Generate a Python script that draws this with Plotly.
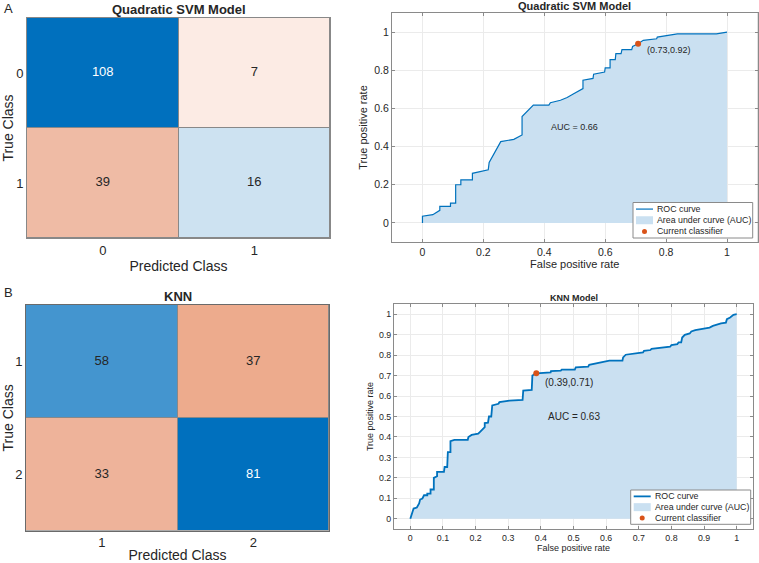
import plotly.graph_objects as go

# ---------------- data ----------------
svm_classes = ["0", "1"]
svm_cm = [[108, 7], [39, 16]]
knn_classes = ["1", "2"]
knn_cm = [[58, 37], [33, 81]]

svm_fpr = [0, 0, 0.034, 0.048, 0.057, 0.057, 0.092, 0.092, 0.109, 0.109,
           0.126, 0.126, 0.164, 0.164, 0.216, 0.219, 0.241, 0.257, 0.30, 0.312,
           0.327, 0.327, 0.364, 0.415, 0.42, 0.453, 0.475, 0.495, 0.527, 0.527,
           0.56, 0.562, 0.598, 0.60, 0.616, 0.616, 0.633, 0.635, 0.652, 0.655,
           0.687, 0.69, 0.708, 0.725, 0.769, 0.771, 0.835, 0.837, 0.965, 1.0]
svm_tpr = [0, 0.035, 0.043, 0.056, 0.066, 0.087, 0.087, 0.104, 0.104, 0.2,
           0.2, 0.226, 0.226, 0.26, 0.278, 0.317, 0.383, 0.426, 0.438, 0.449,
           0.461, 0.557, 0.617, 0.617, 0.63, 0.643, 0.657, 0.675, 0.704, 0.748,
           0.757, 0.779, 0.791, 0.812, 0.812, 0.856, 0.856, 0.887, 0.887, 0.908,
           0.908, 0.925, 0.939, 0.957, 0.965, 0.974, 0.988, 0.991, 0.991, 1.0]
svm_op_fpr = [0.708]
svm_op_tpr = [0.939]
svm_op_label = "(0.73,0.92)"
svm_auc_label = "AUC = 0.66"

knn_fpr = [0, 0.010, 0.020, 0.027, 0.030, 0.037, 0.042, 0.052, 0.052, 0.062,
           0.062, 0.072, 0.072, 0.082, 0.082, 0.103, 0.105, 0.113, 0.115, 0.123,
           0.123, 0.135, 0.176, 0.178, 0.188, 0.208, 0.213, 0.22, 0.228, 0.228,
           0.238, 0.241, 0.248, 0.251, 0.27, 0.273, 0.304, 0.344, 0.346, 0.372,
           0.374, 0.386, 0.43, 0.431, 0.461, 0.464, 0.504, 0.507, 0.545, 0.548,
           0.605, 0.61, 0.65, 0.652, 0.66, 0.682, 0.713, 0.716, 0.736, 0.739,
           0.781, 0.796, 0.8, 0.818, 0.822, 0.83, 0.833, 0.841, 0.856, 0.861,
           0.873, 0.891, 0.917, 0.927, 0.937, 0.952, 0.967, 0.97, 0.98, 0.99, 1.0]
knn_tpr = [0, 0.05, 0.055, 0.075, 0.094, 0.099, 0.115, 0.115, 0.123, 0.123,
           0.143, 0.143, 0.2, 0.208, 0.229, 0.229, 0.253, 0.253, 0.326, 0.326,
           0.38, 0.386, 0.386, 0.4, 0.41, 0.416, 0.424, 0.435, 0.448, 0.468,
           0.47, 0.5, 0.5, 0.554, 0.562, 0.57, 0.578, 0.581, 0.627, 0.63,
           0.70, 0.711, 0.716, 0.722, 0.724, 0.729, 0.729, 0.74, 0.744, 0.753,
           0.768, 0.773, 0.773, 0.789, 0.802, 0.808, 0.813, 0.821, 0.825, 0.831,
           0.838, 0.841, 0.849, 0.854, 0.862, 0.862, 0.886, 0.899, 0.906, 0.916,
           0.922, 0.927, 0.935, 0.943, 0.948, 0.955, 0.959, 0.976, 0.984, 0.997, 1.0]
knn_op_fpr = [0.386]
knn_op_tpr = [0.711]
knn_op_label = "(0.39,0.71)"
knn_auc_label = "AUC = 0.63"

legend_labels = ["ROC curve", "Area under curve (AUC)", "Current classifier"]

# ---------------- style ----------------
FONT = "Liberation Sans, Arial, Helvetica, sans-serif"
TXT = "#262626"
svm_cell_colors = ["#0070BE", "#FCEBE4", "#EFBBA5", "#CDE2F1"]
svm_text_colors = ["white", TXT, TXT, TXT]
knn_cell_colors = ["#4495CF", "#EDAB8D", "#EEB39A", "#0070BE"]
knn_text_colors = [TXT, TXT, TXT, "white"]
ROC_LINE = "#0072BD"
AUC_FILL = "#CAE0F1"
OP_COLOR = "#D95319"

W, H = 759, 563
def dx(a, b):
    return [a / W, b / W]
def dy(top, bottom):
    return [1 - bottom / H, 1 - top / H]
def px(x):
    return x / W
def py(y):
    return 1 - y / H

fig = go.Figure()

def add_cm(cm, classes, colors, tcolors, xa, ya):
    n = len(classes)
    idx = [[i * n + j for j in range(n)] for i in range(n)]
    scale = [[k / (n * n - 1), c] for k, c in enumerate(colors)]
    fig.add_trace(go.Heatmap(
        z=idx, x=list(range(n)), y=list(range(n)), zmin=0, zmax=n * n - 1,
        colorscale=scale, showscale=False, xgap=1, ygap=1, hoverinfo="skip",
        xaxis=xa, yaxis=ya))
    xs, ys, ts, cs = [], [], [], []
    for i in range(n):
        for j in range(n):
            xs.append(j); ys.append(i); ts.append(str(cm[i][j])); cs.append(tcolors[i * n + j])
    fig.add_trace(go.Scatter(
        x=xs, y=ys, text=ts, mode="text", textfont=dict(size=13, color=cs, family=FONT),
        showlegend=False, hoverinfo="skip", xaxis=xa, yaxis=ya))

def add_roc(fpr, tpr, opx, opy, xa, ya, lw):
    fig.add_trace(go.Scatter(
        x=fpr, y=tpr, mode="none", fill="tozeroy", fillcolor=AUC_FILL,
        name=legend_labels[1], showlegend=False, xaxis=xa, yaxis=ya))
    fig.add_trace(go.Scatter(
        x=fpr, y=tpr, mode="lines", line=dict(color=ROC_LINE, width=lw),
        name=legend_labels[0], showlegend=False, xaxis=xa, yaxis=ya))
    fig.add_trace(go.Scatter(
        x=opx, y=opy, mode="markers", marker=dict(color=OP_COLOR, size=6),
        name=legend_labels[2], showlegend=False, xaxis=xa, yaxis=ya))

add_cm(svm_cm, svm_classes, svm_cell_colors, svm_text_colors, "x", "y")
add_roc(svm_fpr, svm_tpr, svm_op_fpr, svm_op_tpr, "x2", "y2", 1.2)
add_cm(knn_cm, knn_classes, knn_cell_colors, knn_text_colors, "x3", "y3")
add_roc(knn_fpr, knn_tpr, knn_op_fpr, knn_op_tpr, "x4", "y4", 1.8)

cm_common = dict(showgrid=False, zeroline=False, ticks="", showline=True, mirror=True,
                 automargin=False, tickfont=dict(size=13, color=TXT, family=FONT))
def cm_x(dom, classes, anchor, lc):
    return dict(domain=dom, anchor=anchor, range=[-0.5, 1.5], tickvals=[0, 1], ticktext=classes,
                title=dict(text="Predicted Class", font=dict(size=14, color=TXT, family=FONT), standoff=4),
                linecolor=lc, **cm_common)
def cm_y(dom, classes, anchor, lc):
    return dict(domain=dom, anchor=anchor, range=[1.5, -0.5], tickvals=[0, 1], ticktext=classes,
                title=dict(text="True Class", font=dict(size=14, color=TXT, family=FONT), standoff=4),
                linecolor=lc, **cm_common)

def roc_axis(dom, anchor, rng, dt, title, fs, tfs, standoff):
    return dict(domain=dom, anchor=anchor, range=rng, dtick=dt, tick0=0, automargin=False,
                showgrid=True, gridcolor="#EBEBEB", gridwidth=1, zeroline=False,
                showline=True, linecolor="#8A8A8A", linewidth=1, mirror="ticks",
                ticks="inside", ticklen=3, tickcolor="#8A8A8A",
                tickfont=dict(size=tfs, color=TXT, family=FONT),
                title=dict(text=title, font=dict(size=fs, color=TXT, family=FONT), standoff=standoff))

fig.update_layout(
    width=W, height=H, margin=dict(l=0, r=0, t=0, b=0, autoexpand=False),
    paper_bgcolor="white", plot_bgcolor="#888888",
    font=dict(family=FONT, color=TXT), showlegend=False,
    xaxis=cm_x(dx(27, 330), svm_classes, "y", "#888888"),
    yaxis=cm_y(dy(18, 238), svm_classes, "x", "#888888"),
    xaxis2=roc_axis(dx(392, 757.5), "y2", [-0.1, 1.1], 0.2, "False positive rate", 11, 10.5, 3),
    yaxis2=roc_axis(dy(13, 242), "x2", [-0.1, 1.1], 0.2, "True positive rate", 11, 10.5, 4),
    xaxis3=cm_x(dx(26, 329), knn_classes, "y3", "#6a6a6a"),
    yaxis3=cm_y(dy(305, 530.7), knn_classes, "x3", "#6a6a6a"),
    xaxis4=roc_axis(dx(394, 753), "y4", [-0.05, 1.05], 0.1, "False positive rate", 9, 8.8, 2),
    yaxis4=roc_axis(dy(304, 529), "x4", [-0.05, 1.05], 0.1, "True positive rate", 9, 8.8, 3),
)

shapes = []
for xa, ya in [("x2", "y2"), ("x4", "y4")]:
    shapes.append(dict(type="rect", xref=f"{xa} domain", yref=f"{ya} domain", x0=0, x1=1, y0=0, y1=1,
                       fillcolor="white", line_width=0, layer="below"))

ann = []
def A(text, x, y, size, xanchor="center", yanchor="middle", xref="paper", yref="paper"):
    ann.append(dict(text=text, x=x, y=y, xref=xref, yref=yref, xanchor=xanchor, yanchor=yanchor,
                    showarrow=False, font=dict(size=size, color=TXT, family=FONT)))

def add_legend(x0, y0, x1, y1, lw, fs):
    shapes.append(dict(type="rect", xref="paper", yref="paper", x0=px(x0), x1=px(x1),
                       y0=py(y1), y1=py(y0), fillcolor="white", line=dict(color="#8A8A8A", width=1),
                       layer="above"))
    rowh = (y1 - y0 - 2) / 3
    for k in range(3):
        cy = y0 + 1 + rowh * (k + 0.5)
        sx0, sx1 = x0 + 3, x0 + 20
        if k == 0:
            shapes.append(dict(type="line", xref="paper", yref="paper", x0=px(sx0), x1=px(sx1),
                               y0=py(cy), y1=py(cy), line=dict(color=ROC_LINE, width=lw), layer="above"))
        elif k == 1:
            shapes.append(dict(type="rect", xref="paper", yref="paper", x0=px(sx0), x1=px(sx1),
                               y0=py(cy + 4), y1=py(cy - 4), fillcolor=AUC_FILL, line_width=0, layer="above"))
        else:
            mx = (sx0 + sx1) / 2
            shapes.append(dict(type="circle", xref="paper", yref="paper", x0=px(mx - 2.5), x1=px(mx + 2.5),
                               y0=py(cy + 2.5), y1=py(cy - 2.5), fillcolor=OP_COLOR, line_width=0, layer="above"))
        A(legend_labels[k], px(sx1 + 2), py(cy), fs, xanchor="left")

add_legend(633, 202.5, 752.7, 238, 1.2, 8.8)
add_legend(630.7, 490, 750.7, 524.3, 1.8, 8.8)

A("<b>Quadratic SVM Model</b>", px(178.5), py(10), 13)
A("<b>Quadratic SVM Model</b>", px(574), py(6), 11)
A("<b>KNN</b>", px(177.5), py(296), 13)
A("<b>KNN Model</b>", px(574), py(298), 9)
A("A", px(2), py(8), 13, xanchor="left")
A("B", px(2), py(292), 13, xanchor="left")
A(svm_auc_label, 0.5, 0.5, 9, xref="x2", yref="y2")
A(svm_op_label, svm_op_fpr[0] + 0.022, svm_op_tpr[0] - 0.035, 9, xanchor="left", xref="x2", yref="y2")
A(knn_auc_label, 0.5, 0.5, 10, xref="x4", yref="y4")
A(knn_op_label, knn_op_fpr[0] + 0.02, knn_op_tpr[0] - 0.045, 10, xanchor="left", xref="x4", yref="y4")
fig.update_layout(annotations=ann, shapes=shapes)

fig.write_html("out.html", config={"displayModeBar": False},
               post_script="document.body.style.margin='0';document.body.style.overflow='hidden';")
